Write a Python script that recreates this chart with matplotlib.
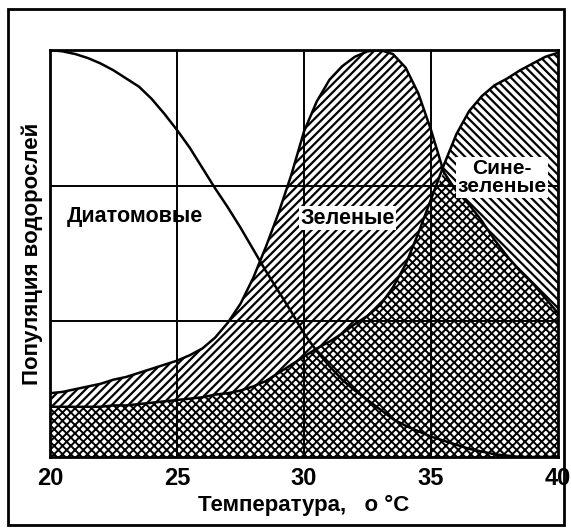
import matplotlib
matplotlib.use("Agg")
import matplotlib.pyplot as plt
import numpy as np
from matplotlib.patches import Rectangle

# temperature grid, degrees C
temp = np.arange(20.0, 40.01, 0.5)

# population curves (0..3 grid units)
diatoms = [3.00, 2.99, 2.97, 2.94, 2.90, 2.85, 2.79, 2.73, 2.64, 2.53,
           2.41, 2.28, 2.13, 1.98, 1.84, 1.69, 1.53, 1.37, 1.22, 1.07,
           0.91, 0.78, 0.67, 0.57, 0.49, 0.42, 0.35, 0.28, 0.23, 0.19,
           0.15, 0.12, 0.09, 0.06, 0.04, 0.02, 0.01, 0.00, 0.00, 0.00,
           0.00]
green = [0.47, 0.48, 0.50, 0.52, 0.54, 0.57, 0.59, 0.62, 0.65, 0.68,
         0.71, 0.75, 0.80, 0.88, 0.99, 1.13, 1.32, 1.55, 1.80, 2.08,
         2.40, 2.62, 2.78, 2.88, 2.95, 2.99, 3.00, 2.97, 2.87, 2.68,
         2.41, 2.10, 1.96, 1.86, 1.74, 1.60, 1.48, 1.37, 1.28, 1.17,
         1.06]
bluegreen = [0.37, 0.37, 0.37, 0.37, 0.37, 0.38, 0.38, 0.39, 0.40, 0.41,
             0.42, 0.43, 0.44, 0.46, 0.47, 0.49, 0.52, 0.56, 0.62, 0.68,
             0.74, 0.80, 0.85, 0.91, 0.98, 1.04, 1.12, 1.25, 1.42, 1.65,
             1.90, 2.15, 2.38, 2.55, 2.66, 2.74, 2.79, 2.85, 2.90, 2.95,
             2.98]

xticks = [20, 25, 30, 35, 40]
ygrid = [1, 2]

plt.rcParams['font.family'] = ['Liberation Sans', 'DejaVu Sans']

fig = plt.figure(figsize=(5.71, 5.28), dpi=100)
ax = fig.add_axes([0.0876, 0.1345, 0.8897, 0.7708])

g = np.array(green)
b = np.array(bluegreen)

# overlap region (dotted look)
plt.rcParams['hatch.linewidth'] = 1.4
ax.fill_between(temp, 0, np.minimum(g, b), facecolor='white',
                edgecolor='black', hatch='xxxx', linewidth=0, zorder=1)
plt.rcParams['hatch.linewidth'] = 1.6
# green part
ax.fill_between(temp, b, g, where=g >= b, interpolate=True,
                facecolor='white', edgecolor='black', hatch='////',
                linewidth=0, zorder=1)
# blue-green part
ax.fill_between(temp, g, b, where=b >= g, interpolate=True,
                facecolor='white', edgecolor='black', hatch='\\\\\\\\',
                linewidth=0, zorder=1)

# grid
for xv in xticks[1:-1]:
    ax.axvline(xv, color='black', lw=1.4, zorder=2)
for yv in ygrid:
    ax.axhline(yv, color='black', lw=1.4, zorder=2)

ax.plot(temp, green, color='black', lw=1.8, zorder=3)
ax.plot(temp, bluegreen, color='black', lw=1.8, zorder=3)
ax.plot(temp, diatoms, color='black', lw=1.8, zorder=3)

ax.set_xlim(20, 40)
ax.set_ylim(0, 3)
ax.set_xticks(xticks)
ax.set_xticklabels([str(t) for t in xticks], fontsize=17, fontweight='bold')
ax.set_yticks([])
ax.tick_params(axis='x', length=0, pad=7)
for s in ax.spines.values():
    s.set_linewidth(2)
    s.set_zorder(4)

ax.set_xlabel('Температура,   о °С', fontsize=16, fontweight='bold', labelpad=4)
ax.set_ylabel('Популяция водорослей', fontsize=16, fontweight='bold', labelpad=5)

ax.text(23.35, 1.77, 'Диатомовые', fontsize=15.5, fontweight='bold',
        ha='center', va='center', zorder=5)
ax.text(31.7, 1.76, 'Зеленые', fontsize=15.5, fontweight='bold',
        ha='center', va='center', zorder=5,
        bbox=dict(facecolor='white', edgecolor='none', pad=1))
ax.text(37.8, 2.06, 'Сине-\nзеленые', fontsize=15, fontweight='bold',
        ha='center', va='center', linespacing=0.95, zorder=5,
        bbox=dict(facecolor='white', edgecolor='none', pad=1))

# outer frame around the whole figure
fig.patches.append(Rectangle((0.014, 0.006), 0.974, 0.977, transform=fig.transFigure,
                             fill=False, edgecolor='black', lw=2))

fig.savefig('out.png', dpi=100)
